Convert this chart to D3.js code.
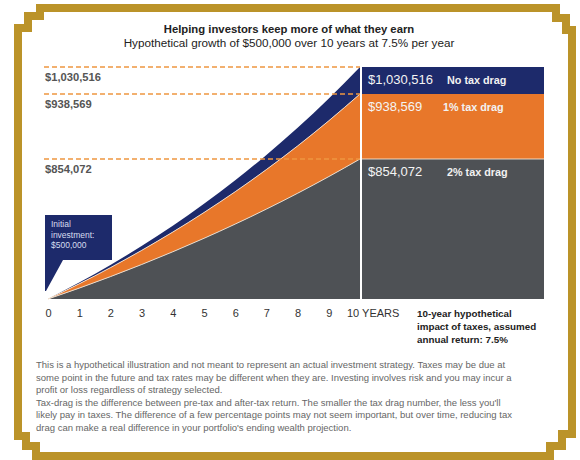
<!DOCTYPE html>
<html>
<head>
<meta charset="utf-8">
<script src="https://cdn.jsdelivr.net/npm/d3@7"></script>
<style>
  body { margin: 0; background: #fff; }
  svg { display: block; font-family: "Liberation Sans", Arial, sans-serif; }
</style>
</head>
<body>
<div class="g-chart-container"></div>
<script>
// yearly values, $500,000 start
var years = [0, 1, 2, 3, 4, 5, 6, 7, 8, 9, 10];
var noDrag  = [500000, 537500, 577813, 621148, 667735, 717815, 771651, 829525, 891739, 958619, 1030516];
var oneDrag = [500000, 532500, 567113, 603975, 643233, 685043, 729571, 776993, 827498, 881285, 938569];
var twoDrag = [500000, 527500, 556513, 587121, 619412, 653480, 689421, 727340, 767343, 809547, 854072];

var seriesNames = ["No tax drag", "1% tax drag", "2% tax drag"];
var endLabels = ["$1,030,516", "$938,569", "$854,072"];
var titleLines = ["Helping investors keep more of what they earn",
  "Hypothetical growth of $500,000 over 10 years at 7.5% per year"];
var calloutLines = ["Initial", "investment:", "$500,000"];
var noteLines = ["10-year hypothetical", "impact of taxes, assumed", "annual return: 7.5%"];
var footLines = [
  "This is a hypothetical illustration and not meant to represent an actual investment strategy. Taxes may be due at",
  "some point in the future and tax rates may be different when they are. Investing involves risk and you may incur a",
  "profit or loss regardless of strategy selected.",
  "Tax-drag is the difference between pre-tax and after-tax return. The smaller the tax drag number, the less you'll",
  "likely pay in taxes. The difference of a few percentage points may not seem important, but over time, reducing tax",
  "drag can make a real difference in your portfolio's ending wealth projection."
];

function taxChart(){

  var w = 580, h = 460;
  var navy = "#1d2a6b", orange = "#e8772a", grey = "#4e5155", gold = "#bb9329";

  var svg = d3.select(".g-chart-container").html("")
      .append("svg")
      .attr("width", w)
      .attr("height", h);

  // gold stepped frame
  svg.append("path")
      .attr("d", "M40,8H556V18H566V30H572V434H562V446H550V456H36V446H26V436H18V28H28V16H40Z")
      .attr("fill", "#fff")
      .attr("stroke", gold)
      .attr("stroke-width", 8);

  svg.selectAll(".title")
    .data(titleLines)
    .enter().append("text")
      .attr("class", "title")
      .attr("x", 289)
      .attr("y", function(d, i){ return 33 + i * 14; })
      .attr("text-anchor", "middle")
      .style("font-size", function(d, i){ return i == 0 ? "11.3px" : "11.7px"; })
      .style("font-weight", function(d, i){ return i == 0 ? "bold" : "normal"; })
      .style("fill", "#222")
      .text(function(d){ return d; });

  var series = [noDrag, oneDrag, twoDrag];
  var last = years.length - 1;

  var x = d3.scaleLinear()
      .domain([0, 10])
      .range([48, 360]);

  // stylised, not to scale: piecewise through the ending values
  var y = d3.scaleLinear()
      .domain([twoDrag[0], twoDrag[last], oneDrag[last], noDrag[last]])
      .range([299, 159, 94, 67]);

  // each curve stretched to its own end mark, like the original
  var ys = series.map(function(s){
    return d3.scaleLinear()
      .domain([s[0], s[last]])
      .range([y(s[0]), y(s[last])]);
  });

  var base = y(twoDrag[0]);

  function band(top, bottom){
    return d3.area()
      .curve(d3.curveMonotoneX)
      .x(function(d){ return x(d); })
      .y0(function(d, i){ return bottom == null ? base : ys[bottom](series[bottom][i]); })
      .y1(function(d, i){ return ys[top](series[top][i]); })(years);
  }

  svg.append("path").attr("d", band(0, 1)).attr("fill", navy);
  svg.append("path").attr("d", band(1, 2)).attr("fill", orange);
  svg.append("path").attr("d", band(2, null)).attr("fill", grey);

  // thin light edges between the bands
  [1, 2].forEach(function(k){
    svg.append("path")
      .attr("d", d3.line()
        .curve(d3.curveMonotoneX)
        .x(function(d){ return x(d); })
        .y(function(d, i){ return ys[k](series[k][i]); })(years))
      .attr("fill", "none")
      .attr("stroke", "#f3e3d3")
      .attr("stroke-width", 0.9);
  });

  // right hand panel
  var px = x(10) + 2, pw = 182;
  var edges = [y(noDrag[last]), y(oneDrag[last]), y(twoDrag[last]), base];
  var colors = [navy, orange, grey];

  svg.selectAll(".panel")
    .data(colors)
    .enter().append("rect")
      .attr("class", "panel")
      .attr("x", px)
      .attr("y", function(d, i){ return edges[i]; })
      .attr("width", pw)
      .attr("height", function(d, i){ return edges[i + 1] - edges[i]; })
      .attr("fill", function(d){ return d; });

  svg.append("line")
      .attr("x1", px).attr("x2", px + pw)
      .attr("y1", edges[2]).attr("y2", edges[2])
      .attr("stroke", "#f3e3d3").attr("stroke-width", 0.9);

  svg.append("line")
      .attr("x1", x(10) + 1).attr("x2", x(10) + 1)
      .attr("y1", edges[0]).attr("y2", base)
      .attr("stroke", "#fff").attr("stroke-width", 1.5);

  // dashed guide lines and left labels
  var guides = svg.selectAll(".guide")
    .data(endLabels)
    .enter().append("g")
      .attr("class", "guide");

  guides.append("line")
      .attr("x1", 44)
      .attr("x2", x(10))
      .attr("y1", function(d, i){ return edges[i]; })
      .attr("y2", function(d, i){ return edges[i]; })
      .attr("stroke", "#ee9640")
      .attr("stroke-width", 1.3)
      .attr("stroke-dasharray", "5,3");

  guides.append("text")
      .attr("x", 45)
      .attr("y", function(d, i){ return edges[i] + 14; })
      .style("font-size", "11.2px")
      .style("font-weight", "bold")
      .style("fill", "#555")
      .text(function(d){ return d; });

  svg.selectAll(".endval")
    .data(endLabels)
    .enter().append("text")
      .attr("class", "endval")
      .attr("x", px + 6)
      .attr("y", function(d, i){ return edges[i] + 17; })
      .style("font-size", "13px")
      .style("fill", "#f4f4f4")
      .text(function(d){ return d; });

  svg.selectAll(".endname")
    .data(seriesNames)
    .enter().append("text")
      .attr("class", "endname")
      .attr("x", function(d, i){ return i == 1 ? px + 81 : px + 85; })
      .attr("y", function(d, i){ return edges[i] + 17; })
      .style("font-size", "10.8px")
      .style("font-weight", "bold")
      .style("fill", "#f2f2f2")
      .text(function(d){ return d; });

  // callout
  var cx = x(0) - 3, cy = base - 84;
  svg.append("path")
      .attr("d", "M" + cx + "," + cy + "h67v45h-49l-17,31h-1z")
      .attr("fill", navy);

  svg.selectAll(".callout")
    .data(calloutLines)
    .enter().append("text")
      .attr("class", "callout")
      .attr("x", cx + 6)
      .attr("y", function(d, i){ return cy + 12 + i * 10.5; })
      .style("font-size", "8.5px")
      .style("fill", "#d6dcef")
      .text(function(d){ return d; });

  // x axis, labels only
  var xAxis = d3.axisBottom(x)
      .tickValues(years.slice(0, last))
      .tickSize(0)
      .tickPadding(10)
      .tickFormat(d3.format("d"));

  var gx = svg.append("g")
      .attr("transform", "translate(0," + base + ")")
      .call(xAxis);
  gx.select(".domain").remove();
  gx.selectAll("text")
      .style("font-size", "11px")
      .style("font-family", "Liberation Sans, Arial, sans-serif")
      .attr("fill", "#333");

  svg.append("text")
      .attr("x", x(10) - 13)
      .attr("y", base + 18)
      .style("font-size", "11px")
      .style("fill", "#333")
      .text("10 YEARS");

  svg.selectAll(".note")
    .data(noteLines)
    .enter().append("text")
      .attr("class", "note")
      .attr("x", 417)
      .attr("y", function(d, i){ return base + 18 + i * 13; })
      .style("font-size", "9.8px")
      .style("font-weight", "bold")
      .style("fill", "#222")
      .text(function(d){ return d; });

  // disclaimer
  var footY = [368, 381, 393, 406, 418, 431];
  svg.selectAll(".foot")
    .data(footLines)
    .enter().append("text")
      .attr("class", "foot")
      .attr("x", 36)
      .attr("y", function(d, i){ return footY[i]; })
      .style("font-size", "9.5px")
      .style("fill", "#666")
      .text(function(d){ return d; });
}

taxChart();
</script>
</body>
</html>
